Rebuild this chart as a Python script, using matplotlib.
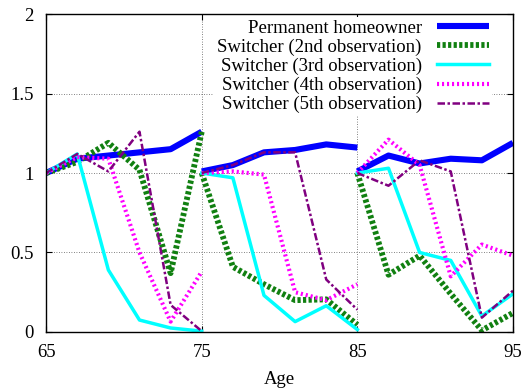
import matplotlib
matplotlib.use("Agg")
import matplotlib.pyplot as plt
import numpy as np

plt.rcParams["font.family"] = ["Liberation Serif", "DejaVu Serif"]
plt.rcParams["font.size"] = 13.5

# three blocks of ages, each series restarts at 1 at the start of a block
ages_a = [65, 67, 69, 71, 73, 75]
ages_b = [75, 77, 79, 81, 83, 85]
ages_c = [85, 87, 89, 91, 93, 95]

permanent = [
    [1.00, 1.09, 1.11, 1.13, 1.15, 1.26],
    [1.01, 1.05, 1.13, 1.145, 1.18, 1.16],
    [1.01, 1.11, 1.06, 1.09, 1.08, 1.19],
]
switch_2nd = [
    [1.00, 1.07, 1.19, 1.02, 0.37, 1.26],
    [1.00, 0.41, 0.30, 0.20, 0.205, 0.045],
    [1.00, 0.36, 0.48, 0.24, 0.01, 0.12],
]
switch_3rd = [
    [1.00, 1.12, 0.39, 0.075, 0.025, 0.005],
    [1.00, 0.97, 0.23, 0.065, 0.165, 0.015],
    [1.00, 1.03, 0.50, 0.45, 0.10, 0.24],
]
switch_4th = [
    [1.00, 1.10, 1.09, 0.50, 0.065, 0.38],
    [1.00, 1.01, 0.99, 0.25, 0.20, 0.30],
    [1.00, 1.21, 1.05, 0.35, 0.55, 0.48],
]
switch_5th = [
    [1.00, 1.12, 1.01, 1.26, 0.17, 0.005],
    [1.00, 1.05, 1.13, 1.13, 0.33, 0.14],
    [1.00, 0.92, 1.08, 1.01, 0.09, 0.26],
]

labels = [
    "Permanent homeowner",
    "Switcher (2nd observation)",
    "Switcher (3rd observation)",
    "Switcher (4th observation)",
    "Switcher (5th observation)",
]

series = [permanent, switch_2nd, switch_3rd, switch_4th, switch_5th]
styles = [
    dict(color="#0000ff", lw=4.4, ls="-", solid_capstyle="butt"),
    dict(color="#118011", lw=4.2, ls=(0, (0.55, 0.4)), dash_capstyle="butt"),
    dict(color="#00ffff", lw=2.5, ls="-"),
    dict(color="#ff00ff", lw=3.0, ls=(0, (0.5, 0.7)), dash_capstyle="butt"),
    dict(color="#800080", lw=1.8, ls=(0, (3.0, 1.0, 1.0, 1.0)), dash_capstyle="butt"),
]

fig = plt.figure(figsize=(5.24, 3.91), dpi=100)
ax = fig.add_axes([0.088, 0.151, 0.891, 0.813])

blocks = [ages_a, ages_b, ages_c]
for vals, st, lab in zip(series, styles, labels):
    for i, (ages, ys) in enumerate(zip(blocks, vals)):
        ax.plot(ages, ys, label=lab if i == 0 else None, **st)

ax.set_xlim(65, 95)
ax.set_ylim(0, 2)
ax.set_xticks([65, 75, 85, 95])
ax.set_yticks([0, 0.5, 1, 1.5, 2])
ax.set_yticklabels(["0", "0.5", "1", "1.5", "2"])
ax.tick_params(direction="in", length=4, top=True, right=True)
ax.tick_params(axis="x", pad=9)
ax.tick_params(axis="y", pad=9)
ax.grid(True, color="0.35", lw=0.6, ls=(0, (1, 2)))
ax.set_axisbelow(True)
for s in ax.spines.values():
    s.set_linewidth(1.0)
ax.set_xlabel("Age", labelpad=7)

leg = ax.legend(loc="upper right", bbox_to_anchor=(0.955, 0.9915),
                markerfirst=False, frameon=True,
                facecolor="white", edgecolor="none", framealpha=1.0,
                fancybox=False, handlelength=2.8, handletextpad=0.8,
                labelspacing=0.1, borderaxespad=0.0, borderpad=0.15)
leg.set_zorder(2.5)

fig.savefig("out.png", dpi=100)
